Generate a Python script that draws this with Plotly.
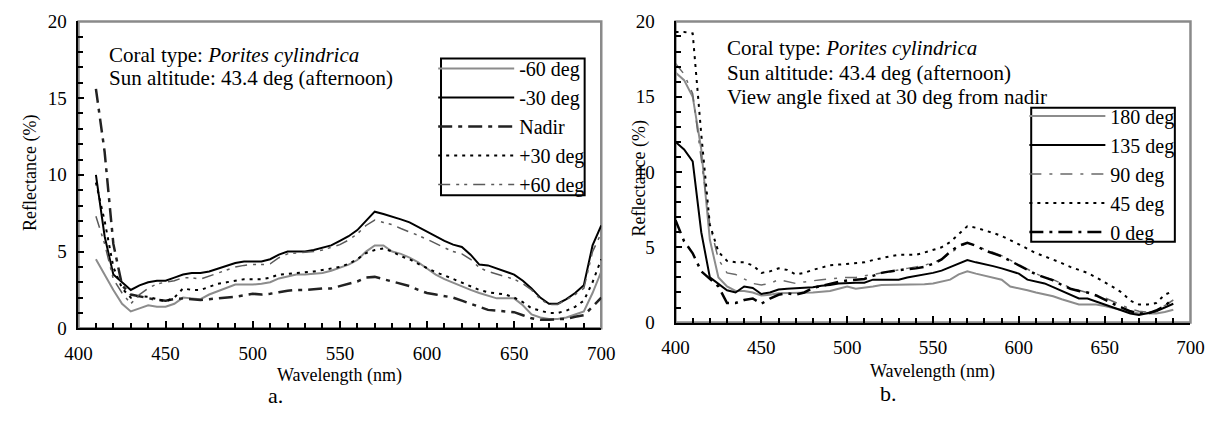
import plotly.graph_objects as go

# ---------------- data ----------------
wl_a = list(range(410, 701, 5))
m60 = [4.5, 3.5, 2.5, 1.6, 1.1, 1.3, 1.5, 1.4, 1.4, 1.6, 2.0, 1.95, 1.9, 2.2, 2.4, 2.6, 2.85, 2.85, 2.85, 2.9,
       3.0, 3.25, 3.4, 3.5, 3.5, 3.55, 3.6, 3.75, 3.95, 4.15, 4.45, 5.0, 5.4, 5.4, 5.0, 4.85, 4.6, 4.3, 3.9, 3.5,
       3.2, 2.95, 2.75, 2.5, 2.3, 2.1, 1.95, 1.95, 1.95, 1.5, 0.9, 0.7, 0.6, 0.6, 0.7, 0.9, 1.1, 2.3, 3.7]
m30 = [10.0, 6.0, 3.5, 3.0, 2.5, 2.8, 3.0, 3.1, 3.1, 3.3, 3.5, 3.6, 3.6, 3.7, 3.9, 4.1, 4.25, 4.35, 4.35, 4.35,
       4.5, 4.8, 5.0, 5.0, 5.0, 5.1, 5.25, 5.4, 5.7, 6.0, 6.4, 7.0, 7.6, 7.45, 7.3, 7.1, 6.9, 6.6, 6.25, 5.95,
       5.7, 5.45, 5.3, 4.8, 4.15, 4.1, 3.9, 3.7, 3.5, 3.1, 2.6, 2.0, 1.6, 1.6, 1.9, 2.3, 2.8, 5.4, 6.7]
nadir = [15.6, 11.5, 5.5, 2.8, 2.2, 2.1, 2.0, 1.85, 1.8, 1.9, 1.95, 1.9, 1.85, 1.9, 1.95, 2.0, 2.05, 2.15, 2.25, 2.2,
         2.25, 2.35, 2.45, 2.5, 2.5, 2.55, 2.6, 2.6, 2.75, 2.9, 3.05, 3.3, 3.35, 3.2, 3.05, 2.95, 2.75, 2.5, 2.3, 2.2,
         2.1, 2.0, 1.8, 1.6, 1.4, 1.2, 1.15, 1.1, 1.05, 0.85, 0.65, 0.55, 0.55, 0.6, 0.6, 0.75, 0.85, 1.4, 2.0]
p30 = [9.5, 7.0, 4.0, 2.6, 2.0, 2.1, 2.05, 1.9, 1.75, 2.0, 2.6, 2.5, 2.5, 2.7, 2.9, 3.0, 3.1, 3.2, 3.2, 3.2,
       3.3, 3.5, 3.55, 3.6, 3.65, 3.7, 3.8, 3.9, 4.0, 4.2, 4.5, 4.9, 5.1, 5.2, 5.0, 4.7, 4.5, 4.2, 3.9, 3.65,
       3.45, 3.2, 3.0, 2.75, 2.5, 2.35, 2.25, 2.2, 2.0, 1.7, 1.3, 1.15, 1.0, 1.0, 1.15, 1.4, 1.8, 3.0, 4.5]
p60 = [7.3, 5.5, 3.2, 2.3, 1.6, 2.2, 2.6, 2.9, 3.0, 3.1, 3.3, 3.3, 3.2, 3.4, 3.6, 3.8, 4.0, 4.1, 4.15, 4.15,
       4.2, 4.6, 4.85, 4.9, 4.95, 5.0, 5.1, 5.25, 5.45, 5.75, 6.15, 6.7, 7.05, 6.9, 6.75, 6.5, 6.3, 6.05, 5.8, 5.5,
       5.25, 5.0, 4.85, 4.5, 3.95, 3.7, 3.55, 3.4, 3.2, 2.9, 2.5, 1.9, 1.55, 1.55, 1.85, 2.2, 2.6, 5.0, 6.2]

wl_b = list(range(400, 691, 5))
az180 = [16.6, 16.1, 15.0, 11.5, 5.5, 3.0, 2.4, 2.1, 2.1, 2.0, 1.8, 1.85, 1.95, 1.95, 1.95, 1.95, 2.0, 2.05, 2.1, 2.25,
         2.4, 2.25, 2.3, 2.4, 2.5, 2.5, 2.5, 2.5, 2.5, 2.55, 2.6, 2.7, 2.85, 3.2, 3.4, 3.25, 3.1, 2.95, 2.85, 2.4,
         2.3, 2.15, 2.0, 1.9, 1.75, 1.55, 1.4, 1.2, 1.2, 1.2, 1.1, 0.95, 0.8, 0.7, 0.6, 0.6, 0.6, 0.7, 0.85]
az135 = [12.0, 11.5, 10.7, 6.0, 3.0, 2.6, 2.15, 2.0, 2.4, 2.3, 1.9, 2.0, 2.2, 2.25, 2.3, 2.35, 2.35, 2.45, 2.5, 2.6,
         2.65, 2.65, 2.65, 2.85, 2.85, 2.85, 2.85, 3.0, 3.1, 3.15, 3.3, 3.45, 3.7, 3.95, 4.15, 4.0, 3.9, 3.75, 3.6, 3.45,
         3.25, 2.85, 2.7, 2.6, 2.35, 2.1, 1.85, 1.6, 1.6, 1.4, 1.2, 1.0, 0.8, 0.6, 0.5, 0.6, 0.75, 1.0, 1.25]
az90 = [17.2, 16.5, 15.2, 11.0, 6.5, 4.2, 3.3, 3.2, 2.9, 2.6, 2.5, 2.6, 2.85, 2.7, 2.6, 2.7, 2.8, 2.85, 2.9, 2.95,
        3.0, 3.0, 3.1, 3.2, 3.35, 3.45, 3.55, 3.6, 3.7, 3.8, 4.0, 4.2, 4.6, 5.0, 5.3, 5.1, 4.9, 4.7, 4.45, 4.15,
        3.85, 3.5, 3.25, 3.0, 2.85, 2.6, 2.3, 2.15, 2.0, 1.85, 1.65, 1.4, 1.15, 0.9, 0.75, 0.7, 0.75, 1.1, 1.5]
az45 = [19.3, 19.3, 19.2, 12.5, 6.5, 4.7, 4.1, 4.0, 4.0, 3.8, 3.3, 3.4, 3.6, 3.5, 3.2, 3.3, 3.5, 3.65, 3.8, 3.85,
        3.9, 3.95, 4.0, 4.15, 4.3, 4.4, 4.5, 4.5, 4.5, 4.65, 4.8, 5.0, 5.35, 5.9, 6.4, 6.3, 6.15, 5.95, 5.75, 5.5,
        5.2, 4.9, 4.6, 4.4, 4.2, 3.95, 3.7, 3.5, 3.3, 3.0, 2.7, 2.35, 2.0, 1.45, 1.2, 1.2, 1.3, 1.85, 2.1]
az0 = [6.8, 5.4, 4.6, 3.4, 2.9, 2.4, 1.3, 1.3, 1.5, 1.6, 1.25, 1.6, 1.85, 1.95, 1.85, 2.0, 2.3, 2.45, 2.6, 2.7,
       2.8, 2.85, 2.9, 3.1, 3.3, 3.4, 3.5, 3.55, 3.6, 3.7, 3.9, 4.2, 4.7, 5.1, 5.3, 5.1, 4.8, 4.6, 4.4, 4.1,
       3.8, 3.5, 3.2, 3.0, 2.8, 2.5, 2.25, 2.1, 2.0, 1.8, 1.5, 1.25, 1.0, 0.75, 0.6, 0.6, 0.8, 1.1, 1.6]

names_a = ["-60 deg", "-30 deg", "Nadir", "+30 deg", "+60 deg"]
names_b = ["180 deg", "135 deg", "90 deg", "45 deg", "0 deg"]
x_ticks = [400, 450, 500, 550, 600, 650, 700]
y_ticks = [0, 5, 10, 15, 20]

# ---------------- styling ----------------
W, H = 1225, 421
FONT = "Liberation Serif, Times New Roman, serif"

styles_a = [dict(color="#8c8c8c", width=2, dash="solid"),
            dict(color="#000000", width=2, dash="solid"),
            dict(color="#222222", width=2.5, dash="14px,6px,4px,6px"),
            dict(color="#000000", width=2, dash="3px,5px"),
            dict(color="#5a5a5a", width=1.5, dash="12px,6px,3px,5px,3px,6px")]
styles_b = [dict(color="#8c8c8c", width=2, dash="solid"),
            dict(color="#000000", width=2, dash="solid"),
            dict(color="#6a6a6a", width=1.5, dash="12px,8px,3px,8px"),
            dict(color="#000000", width=2, dash="3px,5px"),
            dict(color="#000000", width=2.5, dash="14px,6px,3px,6px")]

fig = go.Figure()
for i, (nm, ys) in enumerate(zip(names_a, [m60, m30, nadir, p30, p60])):
    fig.add_trace(go.Scatter(x=wl_a, y=ys, mode="lines", name=nm, line=styles_a[i],
                             xaxis="x", yaxis="y", legend="legend"))
for i, (nm, ys) in enumerate(zip(names_b, [az180, az135, az90, az45, az0])):
    fig.add_trace(go.Scatter(x=wl_b, y=ys, mode="lines", name=nm, line=styles_b[i],
                             xaxis="x2", yaxis="y2", legend="legend2"))


def px_x(p):
    return p / W


def px_y(p):
    return 1 - p / H


def xax(dom, anchor, standoff):
    return dict(domain=dom, anchor=anchor, range=[400, 700], tickvals=x_ticks,
                ticks="inside", ticklen=7, tickwidth=1.5, tickcolor="black",
                minor=dict(dtick=10, ticks="inside", ticklen=5, tickwidth=1.5, tickcolor="black"),
                showline=True, linecolor="black", linewidth=2, showgrid=False, zeroline=False,
                tickfont=dict(family=FONT, size=19, color="black"), ticklabelstandoff=standoff)


def yax(dom, anchor, standoff):
    return dict(domain=dom, anchor=anchor, range=[0, 20], tickvals=y_ticks,
                ticks="inside", ticklen=6, tickwidth=1.5, tickcolor="black",
                minor=dict(dtick=1, ticks="inside", ticklen=5, tickwidth=1.5, tickcolor="black"),
                showline=True, linecolor="black", linewidth=2, showgrid=False, zeroline=False,
                tickfont=dict(family=FONT, size=19, color="black"), ticklabelstandoff=standoff)


# panel pixel boxes
La, Ra, Ta, Ba = 66, 601, 12, 335
Lb, Rb, Tb, Bb = 677, 1204, 12, 329

legend_common = dict(bgcolor="rgba(0,0,0,0)", borderwidth=0,
                     font=dict(family=FONT, size=20, color="black"),
                     xanchor="left", yanchor="top", itemwidth=76,
                     itemclick=False)

fig.update_layout(
    width=W, height=H, autosize=False,
    margin=dict(l=0, r=0, t=0, b=0),
    paper_bgcolor="white", plot_bgcolor="white",
    font=dict(family=FONT, color="black"),
    xaxis=xax([px_x(La), px_x(Ra)], "y", 7),
    yaxis=yax([px_y(Ba), px_y(Ta)], "x", 6),
    xaxis2=xax([px_x(Lb), px_x(Rb)], "y2", 7),
    yaxis2=yax([px_y(Bb), px_y(Tb)], "x2", 15),
    legend=dict(x=px_x(429), y=px_y(41), **legend_common),
    legend2=dict(x=px_x(1034), y=px_y(91), **legend_common),
)

# gray top/right frame
for xr, yr in [("x domain", "y domain"), ("x2 domain", "y2 domain")]:
    fig.add_shape(type="rect", xref=xr, yref=yr, x0=0, x1=1, y0=0, y1=1,
                  line=dict(color="#8a8a8a", width=2.5), layer="below")
# legend boxes
for (x0, y0, x1, y1) in [(437, 51, 584, 195), (1041, 103, 1188, 244)]:
    fig.add_shape(type="rect", xref="paper", yref="paper",
                  x0=px_x(x0), x1=px_x(x1), y0=px_y(y1), y1=px_y(y0),
                  line=dict(color="black", width=2), fillcolor="white", layer="below")

ann = []
txt = dict(family=FONT, size=21, color="black")
ann.append(dict(x=px_x(95), y=px_y(47), text="Coral type: <i>Porites cylindrica</i>", xanchor="left", yanchor="middle"))
ann.append(dict(x=px_x(95), y=px_y(72), text="Sun altitude: 43.4 deg (afternoon)", xanchor="left", yanchor="middle"))
ann.append(dict(x=px_x(728), y=px_y(40), text="Coral type: <i>Porites cylindrica</i>", xanchor="left", yanchor="middle"))
ann.append(dict(x=px_x(728), y=px_y(66), text="Sun altitude: 43.4 deg (afternoon)", xanchor="left", yanchor="middle"))
ann.append(dict(x=px_x(728), y=px_y(92), text="View angle fixed at 30 deg from nadir", xanchor="left", yanchor="middle"))
for a in ann:
    a.update(xref="paper", yref="paper", showarrow=False, font=txt)

small = dict(family=FONT, size=18, color="black")
extra = [
    dict(x=px_x(333), y=px_y(385), text="Wavelength (nm)", font=small),
    dict(x=px_x(940), y=px_y(381), text="Wavelength (nm)", font=small),
    dict(x=px_x(17), y=px_y(172), text="Reflectance (%)", font=small, textangle=-90),
    dict(x=px_x(640), y=px_y(177), text="Reflectance (%)", font=small, textangle=-90),
    dict(x=px_x(268), y=px_y(406), text="a.", font=dict(family=FONT, size=22, color="black")),
    dict(x=px_x(895), y=px_y(404), text="b.", font=dict(family=FONT, size=22, color="black")),
]
for a in extra:
    a.update(xref="paper", yref="paper", showarrow=False, xanchor="center", yanchor="middle")
fig.update_layout(annotations=ann + extra)

fig.write_html("out.html",
               config={"displayModeBar": False, "staticPlot": False},
               post_script="document.body.style.margin='0px';document.body.style.padding='0px';"
                           "document.documentElement.style.overflow='hidden';")
